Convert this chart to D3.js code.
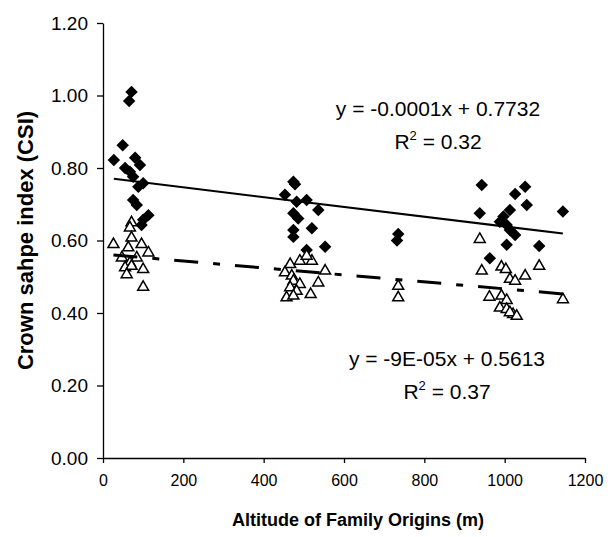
<!DOCTYPE html>
<html>
<head>
<meta charset="utf-8">
<script src="https://cdn.jsdelivr.net/npm/d3@7"></script>
<style>
  body { margin: 0; background: #fff; }
  #chart { width: 615px; height: 537px; }
  .tick text { font-family: "Liberation Sans", Arial, sans-serif; fill: #000; }
  .x-axis .tick text { font-size: 16px; }
  .y-axis .tick text { font-size: 19px; }
  .axis-title { font-family: "Liberation Sans", Arial, sans-serif; font-weight: bold; }
  .eq { font-family: "Liberation Sans", Arial, sans-serif; font-size: 21px; }
</style>
</head>
<body>
<div id="chart"></div>
<script>
// diamonds (filled)
const diamondAlt = [71, 65, 49, 27, 80, 92, 55, 67, 75, 100, 88, 75, 84, 113, 100, 96,
  474, 478, 453, 507, 482, 536, 474, 486, 520, 474, 474, 553, 507,
  735, 732,
  943, 1051, 1026, 1055, 938, 1013, 1145, 997, 988, 1005, 1013, 1026, 1005, 1086, 963];
const diamondCsi = [1.01, 0.985, 0.863, 0.822, 0.828, 0.808, 0.80, 0.79, 0.776, 0.758, 0.748, 0.712, 0.698, 0.670, 0.657, 0.643,
  0.762, 0.755, 0.726, 0.712, 0.707, 0.684, 0.675, 0.661, 0.634, 0.629, 0.610, 0.583, 0.574,
  0.618, 0.600,
  0.753, 0.748, 0.728, 0.698, 0.675, 0.684, 0.680, 0.666, 0.652, 0.643, 0.629, 0.615, 0.588, 0.585, 0.551];

// triangles (open)
const triangleAlt = [71, 67, 26, 71, 96, 63, 113, 47, 84, 67, 55, 71, 100, 59, 100,
  466, 490, 520, 507, 553, 453, 470, 536, 474, 490, 466, 482, 517, 457, 474,
  735, 735,
  938, 1086, 943, 992, 1003, 1051, 1013, 1026, 962, 992, 1005, 1145, 988, 1005, 1021, 1013, 1030];
const triangleCsi = [0.652, 0.638, 0.592, 0.610, 0.592, 0.583, 0.569, 0.555, 0.555, 0.541, 0.528, 0.532, 0.523, 0.509, 0.474,
  0.537, 0.546, 0.546, 0.560, 0.519, 0.514, 0.505, 0.486, 0.491, 0.482, 0.473, 0.463, 0.454, 0.445, 0.450,
  0.477, 0.445,
  0.606, 0.532, 0.519, 0.530, 0.523, 0.505, 0.496, 0.491, 0.447, 0.450, 0.438, 0.44, 0.417, 0.413, 0.399, 0.404, 0.394];

// trendlines: [slope, intercept]
const diamondTrend = [-0.000135, 0.7737];
const triangleTrend = [-0.000096, 0.5626];

const xTicks = [0, 200, 400, 600, 800, 1000, 1200];
const yTicks = [0, 0.2, 0.4, 0.6, 0.8, 1.0, 1.2];

const margin = { top: 23, right: 30, bottom: 79, left: 103 };
const width = 615 - margin.left - margin.right;
const height = 537 - margin.top - margin.bottom;

const svg = d3.select('#chart')
  .append('svg')
  .attr('width', 615)
  .attr('height', 537)
  .append('g')
  .attr('transform', `translate(${margin.left},${margin.top})`);

const xScale = d3.scaleLinear().domain([0, 1200]).range([0, width]);
const yScale = d3.scaleLinear().domain([0, 1.2]).range([height, 0]);

// axes
svg.append('g')
  .attr('class', 'x-axis')
  .attr('transform', `translate(0,${height})`)
  .call(d3.axisBottom(xScale).tickValues(xTicks).tickSize(5).tickSizeOuter(0).tickPadding(12)
    .tickFormat(d3.format('d')));
svg.append('g')
  .attr('class', 'y-axis')
  .call(d3.axisLeft(yScale).tickValues(yTicks).tickSize(6).tickSizeOuter(0).tickPadding(9)
    .tickFormat(d3.format('.2f')));
svg.selectAll('.domain, .tick line').attr('stroke', '#000').attr('stroke-width', 1.3);

// points
const diamonds = diamondAlt.map((a, i) => ({ x: a, y: diamondCsi[i] }));
const triangles = triangleAlt.map((a, i) => ({ x: a, y: triangleCsi[i] }));

svg.selectAll('.dia')
  .data(diamonds)
  .enter().append('path')
  .attr('class', 'dia')
  .attr('d', d3.symbol(d3.symbolSquare, 78))
  .attr('transform', (d) => `translate(${xScale(d.x)},${yScale(d.y)}) rotate(45)`)
  .attr('fill', '#000');

svg.selectAll('.tri')
  .data(triangles)
  .enter().append('path')
  .attr('class', 'tri')
  .attr('d', d3.symbol(d3.symbolTriangle, 52))
  .attr('transform', (d) => `translate(${xScale(d.x)},${yScale(d.y) + 1})`)
  .attr('fill', '#fff')
  .attr('stroke', '#000')
  .attr('stroke-width', 1.5);

// trendlines
function trend(coef, data) {
  const [x0, x1] = d3.extent(data, (d) => d.x);
  return [{ x: x0, y: coef[1] + coef[0] * x0 }, { x: x1, y: coef[1] + coef[0] * x1 }];
}
const line = d3.line().x((d) => xScale(d.x)).y((d) => yScale(d.y));

svg.append('path')
  .datum(trend(diamondTrend, diamonds))
  .attr('d', line)
  .attr('fill', 'none')
  .attr('stroke', '#000')
  .attr('stroke-width', 2);

svg.append('path')
  .datum(trend(triangleTrend, triangles))
  .attr('d', line)
  .attr('fill', 'none')
  .attr('stroke', '#000')
  .attr('stroke-width', 3)
  .attr('stroke-dasharray', '24,15,7,15');

// equations
function equation(cx, cy, eq, r2) {
  const g = svg.append('g').attr('class', 'eq');
  g.append('text').attr('x', cx).attr('y', cy).attr('text-anchor', 'middle').text(eq);
  const t = g.append('text').attr('x', cx).attr('y', cy + 33).attr('text-anchor', 'middle');
  t.append('tspan').text('R');
  t.append('tspan').attr('font-size', '13px').attr('dy', -9).text('2');
  t.append('tspan').attr('dy', 9).text(' = ' + r2);
}
equation(438 - margin.left, 116 - margin.top, 'y = -0.0001x + 0.7732', '0.32');
equation(447 - margin.left, 366 - margin.top, 'y = -9E-05x + 0.5613', '0.37');

// axis titles
svg.append('text')
  .attr('class', 'axis-title')
  .attr('font-size', '18px')
  .attr('x', 358 - margin.left)
  .attr('y', height + 68)
  .attr('text-anchor', 'middle')
  .text('Altitude of Family Origins (m)');

svg.append('text')
  .attr('class', 'axis-title')
  .attr('font-size', '22px')
  .attr('transform', 'rotate(-90)')
  .attr('x', -height / 2)
  .attr('y', -70)
  .attr('text-anchor', 'middle')
  .text('Crown sahpe index (CSI)');
</script>
</body>
</html>
